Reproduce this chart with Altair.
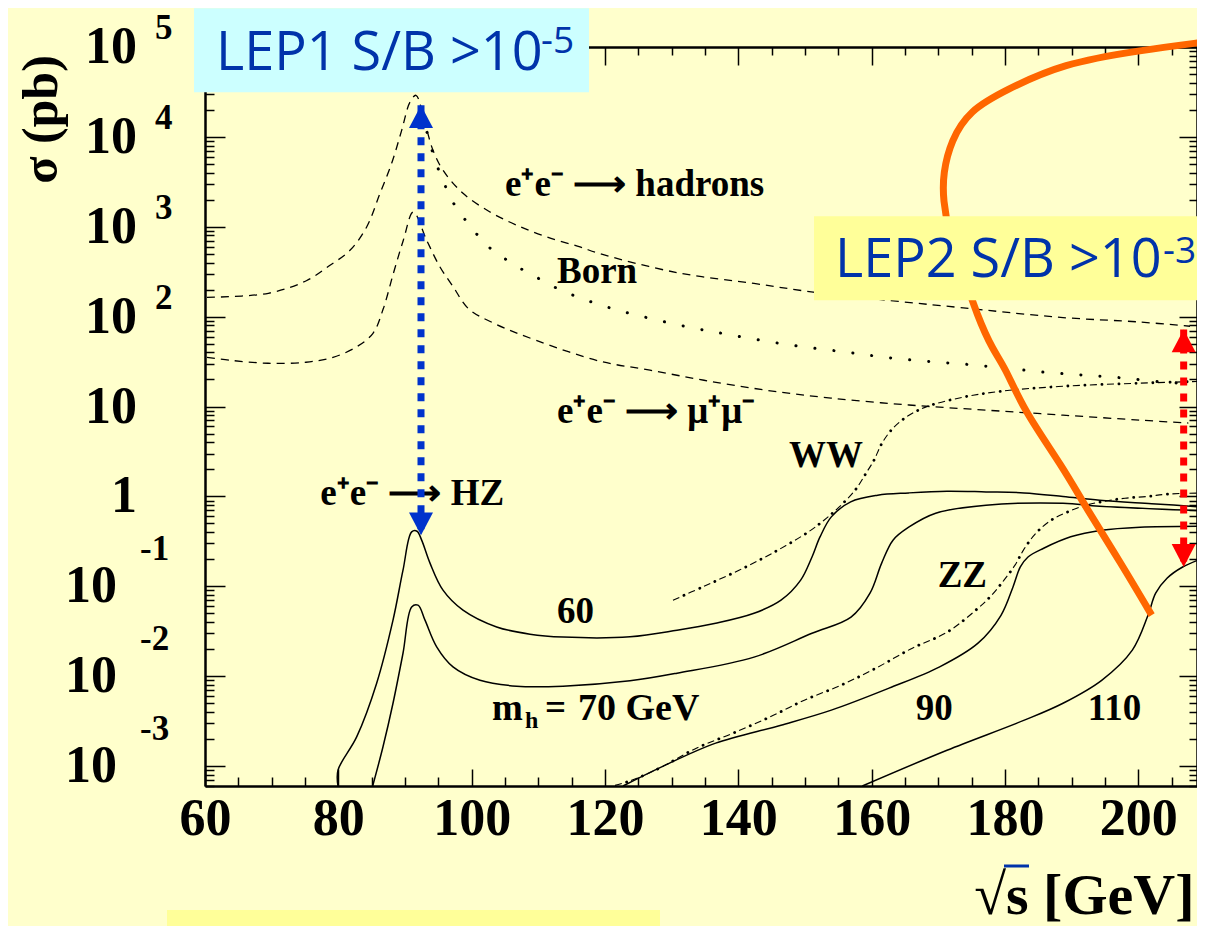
import altair as alt
import pandas as pd

# ---------------- values (x: sqrt(s) in GeV, y: cross section in pb)
had_x = [60.3, 69.5, 75.2, 78.75, 81.75, 84.25, 86.25, 88.0, 89.5, 90.75, 91.65, 93.0, 94.2, 95.7,
         98.7, 102.75, 106.75, 111.25, 116.25, 119.25, 130.8, 142.35, 151.65, 174.75, 188.7, 200.25, 207.75]
had_y = [164, 182, 251, 373, 547, 995, 2355, 5080, 11830, 24430, 29040, 14160, 7100, 4256,
         2355, 1462, 1040, 771, 596, 501, 309, 234, 186, 123, 97.7, 87.1, 78.2]

born_x = [93.3, 94.05, 94.95, 96.0, 97.2, 98.85, 100.65, 102.6, 104.85, 107.25, 109.95, 112.5, 115.2,
          120.9, 126.6, 132.6, 138.3, 144.3, 150.3, 156.3, 162.0, 168.15, 174.15, 180.15, 186.15,
          192.0, 198.0, 204.0, 206.85]
born_y = [11220, 7100, 4477, 2897, 1871, 1245, 847, 592, 447, 346, 268, 212, 173,
          124, 96.2, 76.4, 63.7, 53.2, 45.6, 40.2, 35.3, 31.9, 29.5, 26.7, 24.0,
          22.3, 20.7, 18.6, 18.2]

mumu_x = [60.3, 63.75, 69.45, 75.15, 79.2, 82.65, 85.2, 86.75, 88.25, 89.75, 91.25, 93.25, 95.25,
          97.25, 99.5, 103.35, 109.65, 119.25, 126.75, 134.85, 144.15, 153.9, 165.6, 177.15,
          188.7, 200.25, 207.5]
mumu_y = [35.3, 32.7, 30.3, 31.1, 35.3, 45.7, 65.3, 123, 302, 708, 1462, 708, 357,
          214, 123, 84.3, 54.6, 31.9, 25.4, 19.6, 15.2, 12.4, 10.4, 9.12,
          8.02, 7.06, 6.55]

ww_x = [130.2, 134.85, 140.1, 145.35, 150.45, 152.85, 155.1, 157.5, 159.15, 160.35, 161.55, 163.2,
        165.6, 168.45, 173.7, 179.4, 188.7, 200.25, 210]
ww_y = [0.070, 0.100, 0.151, 0.239, 0.400, 0.543, 0.759, 1.17, 1.81, 2.53, 3.91, 5.74,
        8.0, 10.1, 12.7, 14.8, 16.8, 18.2, 19.1]

zz_x = [121.5, 123.3, 125.85, 128.55, 133.7, 139.2, 144.75, 149.9, 155.4, 160.65, 166.1, 171.3,
        175.95, 178.0, 179.85, 181.5, 182.85, 184.65, 186.9, 189.3, 192.15, 195.0, 198.0, 201.45,
        204.3, 210]
zz_y = [6.1e-4, 6.67e-4, 7.9e-4, 9.8e-4, 1.58e-3, 2.32e-3, 3.52e-3, 5.41e-3, 7.94e-3, 0.0123, 0.0205,
        0.0308, 0.057, 0.0796, 0.117, 0.172, 0.259, 0.39, 0.543, 0.667, 0.798, 0.885, 0.955, 1.0,
        1.06, 1.09]

hz60_x = [79.95, 79.95, 82.75, 85.75, 88.2, 89.7, 91.0, 91.8, 92.5, 93.75, 95.7, 98.7, 103.75, 108.75,
          113.7, 123.75, 130.8, 136.6, 142.35, 146.4, 149.35, 151.05, 152.25, 153.95, 156.85, 160.9,
          165.55, 171.3, 177.15, 182.85, 188.7, 194.2, 202.0, 210]
hz60_y = [6.0e-4, 9.0e-4, 2.11e-3, 8.36e-3, 0.042, 0.151, 0.403, 0.41, 0.326, 0.181, 0.0906, 0.0543,
          0.0353, 0.0293, 0.0272, 0.0274, 0.0324, 0.0388, 0.0501, 0.070, 0.117, 0.212, 0.354, 0.592,
          0.869, 1.03, 1.094, 1.143, 1.122, 1.094, 1.0, 0.908, 0.83, 0.759]

hz70_x = [85.15, 86.7, 88.2, 89.7, 91.0, 91.95, 93.0, 94.75, 97.2, 101.25, 106.75, 113.7, 123.75,
          130.8, 142.35, 151.05, 156.9, 159.75, 161.5, 163.2, 165.55, 169.6, 177.15, 188.7, 194.2, 210]
hz70_y = [6.0e-4, 1.64e-3, 5.0e-3, 0.018, 0.059, 0.0617, 0.042, 0.0212, 0.0127, 9.0e-3, 7.74e-3,
          7.74e-3, 8.87e-3, 0.0108, 0.0163, 0.030, 0.0453, 0.0838, 0.181, 0.326, 0.454, 0.65, 0.798,
          0.839, 0.778, 0.69]

hz90_x = [122.7, 128.5, 136.6, 146.4, 153.95, 162.6, 170.2, 175.95, 179.4, 181.2, 182.3, 183.45,
          185.8, 189.85, 194.5, 200.25, 210]
hz90_y = [6.0e-4, 9.8e-4, 1.8e-3, 2.85e-3, 4.19e-3, 7.36e-3, 0.0127, 0.0233, 0.0476, 0.0984, 0.164,
          0.212, 0.265, 0.355, 0.421, 0.455, 0.467]

hz110_x = [158.6, 171.3, 182.9, 188.7, 194.5, 199.1, 201.45, 202.6, 204.3, 206.65, 210]
hz110_y = [6.0e-4, 1.5e-3, 3.24e-3, 5.0e-3, 9.0e-3, 0.0195, 0.0476, 0.0838, 0.123, 0.164, 0.21]

orange_x = [210, 200.25, 188.7, 180.0, 174.7, 171.9, 170.7, 170.7, 171.6, 173.4, 175.9, 178.2, 180.0,
            182.8, 188.7, 192.1, 197.4, 202.0]
orange_y = [113800, 91830, 65770, 32960, 19770, 9162, 3936, 1972, 847, 355, 98.6, 42.3, 27.4,
            9.1, 2.11, 0.759, 0.181, 0.0478]

# double arrows: [LEP1 (blue), LEP2 (red)]
arrow_x = [92.4, 206.8]
arrow_top = [22460, 71.9]
arrow_bot = [0.370, 0.1644]

# curve labels
lab_text = ["e⁺e⁻ ⟶ hadrons", "Born", "e⁺e⁻ ⟶ μ⁺μ⁻", "WW", "e⁺e⁻ ⟶ HZ", "60", "ZZ", "90", "110"]
lab_x = [105.0, 112.8, 112.8, 147.6, 77.3, 112.8, 169.9, 166.6, 192.4]
lab_y = [2183, 235, 6.52, 2.11, 0.798, 0.0389, 0.0977, 0.00324, 0.00324]
mh_x = [103.05]
mh_y = [0.00324]

# LEP boxes
lep_text = ["LEP1 S/B >10", "LEP2 S/B >10"]
lep_x = [61.65, 154.5]
lep_y = [5.5e4, 274]
lep_sup = ["-5", "-3"]
sup_x = [110.4, 203.7]
sup_y = [85100, 393]
box_x1 = [58.35, 151.35]
box_x2 = [117.6, 210]
box_y1 = [2.69e5, 1309]
box_y2 = [3.13e4, 152]

# y tick labels
ylab_vals = [1e5, 1e4, 1e3, 1e2, 10, 1, 0.1, 0.01, 0.001]
ylab_base = ["10", "10", "10", "10", "10", "1", "10", "10", "10"]
ylab_exp = ["5", "4", "3", "2", "", "", "-1", "-2", "-3"]

x_ticks = list(range(60, 210, 5))
y_ticks = [round(k * 10.0 ** e, 12) for e in range(-4, 5) for k in range(1, 10)
           if 6e-4 <= round(k * 10.0 ** e, 12) <= 1e5] + [1e5]

# ---------------- chart
SERIF = "Liberation Serif"
# the picture is cut at its right edge: the visible part of the axis ends near 208.8 GeV
X = alt.Scale(domain=[60, 208.8])
Y = alt.Scale(type="log", domain=[6e-4, 1e5])
X_MAJOR = "datum.value % 20 == 0"
Y_MAJOR = "abs(log(datum.value)/LN10 - round(log(datum.value)/LN10)) < 0.001"

axis_bottom = alt.Axis(
    orient="bottom", values=x_ticks, labelExpr=f"{X_MAJOR} ? datum.label : ''",
    labelFont=SERIF, labelFontWeight="bold", labelFontSize=52, labelColor="black",
    labelPadding=24, labelOverlap=False, labelFlush=False, labelBound=False,
    tickSize={"expr": f"{X_MAJOR} ? -17 : -9"}, tickColor="black", tickWidth=1.5,
    domainColor="black", domainWidth=2.5, grid=False,
    title="√s [GeV]", titleFont=SERIF, titleFontWeight="bold", titleFontSize=58, titleColor="black",
    titleX=989, titleY=127, titleAlign="right", titleBaseline="alphabetic")
axis_left = alt.Axis(
    orient="left", values=y_ticks, labels=False,
    tickSize={"expr": f"{Y_MAJOR} ? -20 : -9"}, tickColor="black", tickWidth=1.5,
    domainColor="black", domainWidth=2.5, grid=False,
    title="σ (pb)", titleFont=SERIF, titleFontWeight="bold", titleFontSize=50, titleColor="black",
    titleX=-164, titleY=72, titleAngle=270, titleAlign="center", titleBaseline="middle")
axis_top = alt.Axis(
    orient="top", values=x_ticks, labels=False,
    tickSize={"expr": f"{X_MAJOR} ? -18 : -8"}, tickColor="black", tickWidth=1.5,
    domainColor="black", domainWidth=2.5, grid=False, title=None)
axis_right = alt.Axis(
    orient="right", values=y_ticks, labels=False,
    tickSize={"expr": f"{Y_MAJOR} ? -18 : -8"}, tickColor="black", tickWidth=1.5,
    domainColor="black", domainWidth=2.5, grid=False, title=None)


def cdf(xs, ys):
    return pd.DataFrame({"x": xs, "y": ys, "i": list(range(len(xs)))})


def line(xs, ys, xaxis=None, yaxis=None, interp="catmull-rom", **mark):
    return alt.Chart(cdf(xs, ys)).mark_line(interpolate=interp, **mark).encode(
        x=alt.X("x:Q", scale=X, axis=xaxis),
        y=alt.Y("y:Q", scale=Y, axis=yaxis),
        order=alt.Order("i:Q"))


layers = []

# slide decoration under the chart
layers.append(alt.Chart(pd.DataFrame({"a": [0]})).mark_rect(color="#ffff99").encode(
    x=alt.value(-38), x2=alt.value(455), y=alt.value(863), y2=alt.value(879)))

dash = dict(color="black", strokeWidth=1.3, strokeDash=[8, 6])
layers.append(line(had_x, had_y, axis_bottom, axis_left, **dash))
layers.append(line(mumu_x, mumu_y, axis_top, axis_right, **dash))
layers.append(line(born_x, born_y, color="black", strokeWidth=3, strokeDash=[0.1, 19], strokeCap="round"))
for xs, ys in [(ww_x, ww_y), (zz_x, zz_y)]:
    layers.append(line(xs, ys, color="black", strokeWidth=1.1, strokeDash=[7, 10]))
    layers.append(line(xs, ys, color="black", strokeWidth=2.8, strokeDash=[0.1, 16.9],
                       strokeDashOffset=5, strokeCap="round"))
for xs, ys in [(hz60_x, hz60_y), (hz70_x, hz70_y), (hz90_x, hz90_y), (hz110_x, hz110_y)]:
    layers.append(line(xs, ys, color="black", strokeWidth=1.5))

layers.append(line(orange_x, orange_y, interp="basis", color="#ff6600", strokeWidth=7))

# y tick labels (10 with exponent)
ylab = pd.DataFrame({"v": ylab_vals, "base": ylab_base, "exp": ylab_exp})


def ytext(filt, xpix, dy, field, size, align):
    return alt.Chart(ylab).transform_filter(filt).mark_text(
        align=align, baseline="middle", dy=dy, font=SERIF, fontWeight="bold",
        fontSize=size, color="black").encode(
        x=alt.value(xpix), y=alt.Y("v:Q", scale=Y, axis=None), text=f"{field}:N")


layers.append(ytext("datum.v >= 1", -68, 0, "base", 52, "right"))
layers.append(ytext("datum.v < 1", -88, 0, "base", 52, "right"))
layers.append(ytext("datum.v >= 1", -50, -19, "exp", 35, "left"))
layers.append(ytext("datum.v < 1", -65, -37, "exp", 35, "left"))

# curve labels
labs = pd.DataFrame({"t": lab_text, "x": lab_x, "y": lab_y})
lab_style = dict(align="left", baseline="alphabetic", font=SERIF, fontWeight="bold", color="black")
layers.append(alt.Chart(labs).mark_text(fontSize=37, **lab_style).encode(
    x=alt.X("x:Q", scale=X, axis=None), y=alt.Y("y:Q", scale=Y, axis=None), text="t:N"))
mh = pd.DataFrame({"x": mh_x, "y": mh_y})
for txt, dx, dy, fs in [("m", 0, 0, 37), ("h", 33, 8, 24), ("=", 53, 0, 37), ("70 GeV", 86, 0, 38)]:
    layers.append(alt.Chart(mh).mark_text(fontSize=fs, dx=dx, dy=dy, **lab_style).encode(
        x=alt.X("x:Q", scale=X, axis=None), y=alt.Y("y:Q", scale=Y, axis=None), text=alt.value(txt)))

# LEP boxes (LEP2 first, LEP1 on top)
box_colors = ["#ccffff", "#ffff99"]
for i in [1, 0]:
    b = pd.DataFrame({"x1": [box_x1[i]], "x2": [box_x2[i]], "y1": [box_y1[i]], "y2": [box_y2[i]]})
    layers.append(alt.Chart(b).mark_rect(color=box_colors[i], opacity=1).encode(
        x=alt.X("x1:Q", scale=X, axis=None), x2="x2:Q",
        y=alt.Y("y1:Q", scale=Y, axis=None), y2="y2:Q"))
    t = pd.DataFrame({"x": [lep_x[i]], "y": [lep_y[i]], "t": [lep_text[i]]})
    layers.append(alt.Chart(t).mark_text(align="left", baseline="alphabetic", font="Open Sans",
                                         fontSize=54, color="#0033aa").encode(
        x=alt.X("x:Q", scale=X, axis=None), y=alt.Y("y:Q", scale=Y, axis=None), text="t:N"))
    s = pd.DataFrame({"x": [sup_x[i]], "y": [sup_y[i]], "t": [lep_sup[i]]})
    layers.append(alt.Chart(s).mark_text(align="left", baseline="alphabetic", font="Open Sans",
                                         fontSize=37, color="#0033aa").encode(
        x=alt.X("x:Q", scale=X, axis=None), y=alt.Y("y:Q", scale=Y, axis=None), text="t:N"))

# double arrows
arrow_colors = ["#0033cc", "#ff0000"]
for i in [0, 1]:
    d = pd.DataFrame({"x": [arrow_x[i]], "top": [arrow_top[i]], "bot": [arrow_bot[i]]})
    base = alt.Chart(d)
    layers.append(base.mark_rule(color=arrow_colors[i], strokeWidth=7, strokeDash=[8, 8]).encode(
        x=alt.X("x:Q", scale=X, axis=None), y=alt.Y("top:Q", scale=Y, axis=None), y2="bot:Q"))
    layers.append(base.mark_point(shape="M0,0L1,1.9L-1,1.9Z", size=576, filled=True, opacity=1,
                                  color=arrow_colors[i], strokeWidth=0).encode(
        x=alt.X("x:Q", scale=X, axis=None), y=alt.Y("top:Q", scale=Y, axis=None)))
    layers.append(base.mark_point(shape="M0,0L1,-1.9L-1,-1.9Z", size=576, filled=True, opacity=1,
                                  color=arrow_colors[i], strokeWidth=0).encode(
        x=alt.X("x:Q", scale=X, axis=None), y=alt.Y("bot:Q", scale=Y, axis=None)))

# blue bar over the s of the x title
layers.append(alt.Chart(pd.DataFrame({"a": [0]})).mark_rule(color="#0033aa", strokeWidth=3).encode(
    x=alt.value(799), x2=alt.value(824), y=alt.value(819)))

chart = alt.layer(*layers).resolve_axis(x="independent", y="independent").properties(
    width=992, height=739,
    autosize=alt.AutoSizeParams(type="none"),
    padding={"left": 197, "top": 39, "right": 0, "bottom": 140},
    background="#ffffcc",
).configure_view(stroke=None)

chart.save("out.html", embed_options={"renderer": "svg", "actions": False})
